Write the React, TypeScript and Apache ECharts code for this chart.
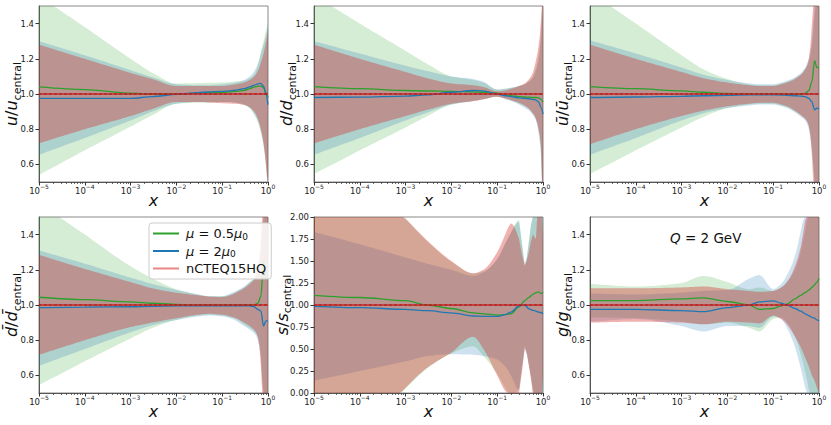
import React, { useEffect, useRef } from "react";
import * as echarts from "echarts";

// x sample points (momentum fraction)
const X = [1e-5, 1e-4, 1e-3, 3e-3, 1e-2, 0.03, 0.05, 0.1, 0.15, 0.2, 0.3, 0.4, 0.5, 0.6, 0.7, 0.8, 0.9, 1.0];

// tick values
const X_MAJOR = [1e-5, 1e-4, 1e-3, 1e-2, 1e-1, 1];
const Y_TICKS = [0.6, 0.8, 1.0, 1.2, 1.4];
const S_TICKS = [0, 0.25, 0.5, 0.75, 1.0, 1.25, 1.5, 1.75, 2.0];

const LEGEND_NAMES = ["μ = 0.5μ0", "μ = 2μ0", "nCTEQ15HQ"];

// ---- u ----
const uGreenHi = [1.557, 1.38, 1.2, 1.12, 1.06, 1.062, 1.064, 1.065, 1.068, 1.072, 1.075, 1.09, 1.11, 1.16, 1.24, 1.3, 1.36, 1.41];
const uGreenLo = [0.54, 0.68, 0.815, 0.88, 0.945, 0.95, 0.95, 0.955, 0.955, 0.95, 0.94, 0.92, 0.88, 0.84, 0.78, 0.7, 0.6, 0.45];
const uGreenC = [1.04, 1.025, 1.005, 1.0, 1.0, 1.005, 1.007, 1.01, 1.012, 1.015, 1.02, 1.03, 1.04, 1.045, 1.045, 1.035, 1.01, 0.98];
const uBlueHi = [1.3, 1.22, 1.135, 1.095, 1.055, 1.05, 1.05, 1.055, 1.06, 1.065, 1.08, 1.1, 1.13, 1.17, 1.23, 1.28, 1.33, 1.38];
const uBlueLo = [0.655, 0.75, 0.85, 0.9, 0.945, 0.955, 0.955, 0.955, 0.955, 0.95, 0.94, 0.92, 0.89, 0.85, 0.79, 0.72, 0.62, 0.48];
const uBlueC = [0.975, 0.975, 0.975, 0.985, 0.998, 1.008, 1.012, 1.015, 1.018, 1.022, 1.03, 1.04, 1.05, 1.058, 1.06, 1.045, 1.0, 0.94];
const uRedHi = [1.28, 1.2, 1.12, 1.085, 1.045, 1.045, 1.045, 1.045, 1.05, 1.055, 1.065, 1.08, 1.1, 1.13, 1.18, 1.23, 1.29, 1.36];
const uRedLo = [0.72, 0.8, 0.875, 0.915, 0.955, 0.955, 0.952, 0.948, 0.946, 0.944, 0.938, 0.925, 0.9, 0.86, 0.8, 0.72, 0.6, 0.45];

// ---- d ----
const dGreenHi = [1.56, 1.4, 1.245, 1.17, 1.1, 1.08, 1.065, 1.025, 1.03, 1.035, 1.045, 1.055, 1.075, 1.1, 1.15, 1.22, 1.35, 1.7];
const dGreenLo = [0.545, 0.68, 0.81, 0.875, 0.94, 0.96, 0.97, 0.985, 0.975, 0.965, 0.945, 0.93, 0.915, 0.89, 0.86, 0.8, 0.7, 0.3];
const dGreenC = [1.042, 1.03, 1.02, 1.017, 1.015, 1.012, 1.01, 1.005, 0.995, 0.99, 0.985, 0.983, 0.982, 0.98, 0.98, 0.978, 0.97, 0.955];
const dBlueHi = [1.3, 1.23, 1.16, 1.13, 1.1, 1.085, 1.07, 1.025, 1.03, 1.035, 1.045, 1.055, 1.07, 1.09, 1.13, 1.19, 1.3, 1.6];
const dBlueLo = [0.655, 0.75, 0.85, 0.895, 0.94, 0.96, 0.97, 0.985, 0.97, 0.96, 0.94, 0.92, 0.905, 0.88, 0.85, 0.78, 0.65, 0.3];
const dBlueC = [0.98, 0.982, 0.988, 0.995, 1.01, 1.02, 1.018, 1.0, 0.99, 0.985, 0.978, 0.975, 0.973, 0.97, 0.965, 0.955, 0.925, 0.885];
const dRedHi = [1.28, 1.2, 1.125, 1.09, 1.06, 1.05, 1.04, 1.015, 1.02, 1.03, 1.045, 1.06, 1.085, 1.12, 1.19, 1.27, 1.42, 1.9];
const dRedLo = [0.72, 0.8, 0.875, 0.91, 0.945, 0.96, 0.97, 0.985, 0.975, 0.965, 0.95, 0.935, 0.915, 0.89, 0.86, 0.8, 0.7, 0.2];

// ---- ubar ----
const ubGreenHi = [1.58, 1.4, 1.22, 1.14, 1.085, 1.055, 1.05, 1.05, 1.06, 1.07, 1.09, 1.11, 1.14, 1.18, 1.27, 1.45, 1.7, 1.9];
const ubGreenLo = [0.545, 0.68, 0.81, 0.87, 0.92, 0.94, 0.945, 0.945, 0.935, 0.925, 0.9, 0.88, 0.86, 0.82, 0.7, 0.5, 0.3, 0.2];
const ubGreenC = [1.042, 1.03, 1.018, 1.01, 1.003, 1.0, 1.0, 1.0, 1.0, 1.0, 1.0, 1.0, 1.003, 1.02, 1.07, 1.19, 1.15, 1.15];
const ubBlueHi = [1.305, 1.23, 1.15, 1.11, 1.08, 1.06, 1.055, 1.055, 1.065, 1.075, 1.095, 1.12, 1.15, 1.2, 1.3, 1.5, 1.7, 1.8];
const ubBlueLo = [0.655, 0.75, 0.85, 0.89, 0.92, 0.935, 0.94, 0.94, 0.93, 0.92, 0.895, 0.87, 0.85, 0.8, 0.68, 0.48, 0.3, 0.2];
const ubBlueC = [0.98, 0.983, 0.987, 0.99, 0.993, 0.995, 0.995, 0.995, 0.994, 0.993, 0.99, 0.988, 0.985, 0.975, 0.955, 0.91, 0.92, 0.915];
const ubRedHi = [1.28, 1.2, 1.125, 1.09, 1.065, 1.05, 1.045, 1.045, 1.055, 1.065, 1.085, 1.11, 1.14, 1.2, 1.4, 2.0, 2.0, 2.0];
const ubRedLo = [0.715, 0.8, 0.875, 0.905, 0.93, 0.945, 0.95, 0.95, 0.94, 0.93, 0.905, 0.88, 0.86, 0.82, 0.65, 0.0, 0.0, 0.0];

// ---- dbar ----
const dbGreenHi = [1.58, 1.4, 1.22, 1.15, 1.09, 1.06, 1.05, 1.05, 1.06, 1.075, 1.1, 1.13, 1.15, 1.2, 1.3, 1.6, 1.9, 1.9];
const dbGreenLo = [0.545, 0.68, 0.81, 0.87, 0.915, 0.94, 0.945, 0.94, 0.93, 0.92, 0.89, 0.87, 0.85, 0.82, 0.72, 0.4, 0.2, 0.2];
const dbGreenC = [1.044, 1.03, 1.018, 1.01, 1.004, 1.0, 1.0, 1.0, 1.0, 1.0, 1.0, 1.0, 1.0, 1.01, 1.05, 1.25, 1.15, 1.15];
const dbBlueHi = [1.31, 1.235, 1.155, 1.12, 1.085, 1.06, 1.05, 1.05, 1.065, 1.08, 1.105, 1.13, 1.155, 1.2, 1.3, 1.6, 1.8, 1.8];
const dbBlueLo = [0.655, 0.75, 0.845, 0.885, 0.915, 0.935, 0.94, 0.935, 0.925, 0.91, 0.88, 0.86, 0.84, 0.8, 0.7, 0.4, 0.2, 0.2];
const dbBlueC = [0.985, 0.988, 0.99, 0.992, 0.995, 0.995, 0.995, 0.995, 0.995, 0.995, 0.995, 0.995, 0.99, 0.975, 0.965, 0.88, 0.91, 0.91];
const dbRedHi = [1.285, 1.205, 1.13, 1.095, 1.07, 1.055, 1.048, 1.045, 1.055, 1.07, 1.095, 1.12, 1.145, 1.2, 1.4, 2.0, 2.0, 2.0];
const dbRedLo = [0.717, 0.8, 0.875, 0.9, 0.925, 0.945, 0.95, 0.945, 0.935, 0.925, 0.9, 0.88, 0.86, 0.82, 0.65, 0.0, 0.0, 0.0];

// ---- s ----
const sGreenHi = [3.0, 2.5, 1.98, 1.72, 1.49, 1.36, 1.38, 1.52, 1.7, 1.82, 1.97, 1.45, 1.75, 2.1, 2.5, 2.5, 2.5, 2.3];
const sGreenLo = [-1.2, -0.55, 0.05, 0.28, 0.45, 0.53, 0.42, 0.22, 0.06, -0.02, 0.05, 0.53, 0.3, 0.0, -0.4, -0.5, -0.4, -0.3];
const sGreenC = [1.11, 1.085, 1.05, 1.0, 0.96, 0.91, 0.9, 0.885, 0.89, 0.9, 0.98, 1.05, 1.09, 1.12, 1.14, 1.15, 1.13, 1.15];
const sBlueHi = [1.83, 1.69, 1.54, 1.47, 1.4, 1.33, 1.37, 1.52, 1.7, 1.82, 1.95, 1.45, 1.75, 2.1, 2.5, 2.5, 2.5, 2.3];
const sBlueLo = [0.14, 0.25, 0.36, 0.42, 0.44, 0.435, 0.42, 0.38, 0.3, 0.2, 0.03, 0.5, 0.3, 0.05, -0.2, -0.3, -0.2, -0.3];
const sBlueC = [0.985, 0.97, 0.95, 0.935, 0.91, 0.875, 0.87, 0.87, 0.89, 0.92, 0.99, 1.0, 0.955, 0.94, 0.93, 0.92, 0.915, 0.9];
const sRedHi = [3.0, 2.5, 1.98, 1.73, 1.5, 1.36, 1.4, 1.6, 1.8, 1.93, 1.75, 1.45, 1.62, 1.8, 1.75, 3.0, 3.0, 1.75];
const sRedLo = [-1.2, -0.55, 0.06, 0.29, 0.46, 0.64, 0.5, 0.2, 0.02, -0.05, -0.05, 0.52, 0.28, 0.0, -0.4, -1.0, -1.0, 0.2];

// ---- g ----
const gGreenHi = [1.12, 1.105, 1.125, 1.165, 1.13, 1.09, 1.1, 1.08, 1.1, 1.13, 1.2, 1.3, 1.42, 1.55, 1.7, 1.8, 1.9, 2.0];
const gGreenLo = [0.93, 0.925, 0.905, 0.89, 0.9, 0.87, 0.85, 0.92, 0.93, 0.9, 0.82, 0.72, 0.62, 0.52, 0.4, 0.3, 0.2, 0.1];
const gGreenC = [1.025, 1.025, 1.035, 1.04, 1.02, 1.0, 0.975, 0.98, 0.995, 1.005, 1.035, 1.055, 1.07, 1.085, 1.1, 1.115, 1.13, 1.15];
const gBlueHi = [1.065, 1.06, 1.07, 1.08, 1.085, 1.15, 1.17, 1.09, 1.12, 1.17, 1.28, 1.42, 1.55, 1.7, 1.85, 1.95, 2.0, 2.0];
const gBlueLo = [0.905, 0.92, 0.88, 0.85, 0.88, 0.88, 0.87, 0.935, 0.92, 0.87, 0.76, 0.64, 0.53, 0.45, 0.35, 0.3, 0.2, 0.1];
const gBlueC = [0.975, 0.975, 0.968, 0.962, 0.985, 1.0, 1.018, 1.024, 1.01, 1.0, 0.98, 0.965, 0.95, 0.94, 0.93, 0.925, 0.915, 0.91];
const gRedHi = [1.095, 1.095, 1.1, 1.105, 1.09, 1.08, 1.075, 1.08, 1.1, 1.13, 1.22, 1.33, 1.48, 1.6, 1.75, 1.85, 1.95, 2.0];
const gRedLo = [0.9, 0.905, 0.9, 0.89, 0.905, 0.9, 0.895, 0.94, 0.92, 0.89, 0.82, 0.76, 0.7, 0.65, 0.6, 0.57, 0.53, 0.5];

const GREEN = "#2ca02c";
const BLUE = "#1f77b4";
const RED = "#d62728";
const FONT = "DejaVu Sans";

const PANELS = [
  { label: "{i|u}{n|/}{i|u}{s|central}", min: 0.5, max: 1.5, g: [uGreenLo, uGreenHi, uGreenC], b: [uBlueLo, uBlueHi, uBlueC], r: [uRedLo, uRedHi] },
  { label: "{i|d}{n|/}{i|d}{s|central}", min: 0.5, max: 1.5, g: [dGreenLo, dGreenHi, dGreenC], b: [dBlueLo, dBlueHi, dBlueC], r: [dRedLo, dRedHi] },
  { label: "{i|ū}{n|/}{i|ū}{s|central}", min: 0.5, max: 1.5, g: [ubGreenLo, ubGreenHi, ubGreenC], b: [ubBlueLo, ubBlueHi, ubBlueC], r: [ubRedLo, ubRedHi] },
  { label: "{i|d̄}{n|/}{i|d̄}{s|central}", min: 0.5, max: 1.5, g: [dbGreenLo, dbGreenHi, dbGreenC], b: [dbBlueLo, dbBlueHi, dbBlueC], r: [dbRedLo, dbRedHi] },
  { label: "{i|s}{n|/}{i|s}{s|central}", min: 0, max: 2, g: [sGreenLo, sGreenHi, sGreenC], b: [sBlueLo, sBlueHi, sBlueC], r: [sRedLo, sRedHi] },
  { label: "{i|g}{n|/}{i|g}{s|central}", min: 0.5, max: 1.5, g: [gGreenLo, gGreenHi, gGreenC], b: [gBlueLo, gBlueHi, gBlueC], r: [gRedLo, gRedHi] },
];

const GRID_LEFT = [39, 314, 590];
const GRID_TOP = [6, 217];

function minorTicks(): number[] {
  const out: number[] = [];
  for (let k = -5; k < 0; k++) {
    for (let m = 2; m <= 9; m++) out.push(m * Math.pow(10, k));
  }
  return out;
}

function xFmt(v: number) {
  const e = Math.round(Math.log10(v));
  return e === 0 ? "{b|10}{p|0}" : "{b|10}{p|−" + -e + "}";
}

// monotone cubic (Fritsch–Carlson) rendering of a curve through pixel points
function monotonePath(pts: number[][]): number[][] {
  const n = pts.length;
  const xs = pts.map((p) => p[0]);
  const ys = pts.map((p) => p[1]);
  const d: number[] = [];
  for (let k = 0; k < n - 1; k++) {
    const h = xs[k + 1] - xs[k];
    d.push(h === 0 ? 0 : (ys[k + 1] - ys[k]) / h);
  }
  const m: number[] = new Array(n).fill(0);
  m[0] = d[0];
  m[n - 1] = d[n - 2];
  for (let k = 1; k < n - 1; k++) {
    if (d[k - 1] * d[k] <= 0) m[k] = 0;
    else {
      const h0 = xs[k] - xs[k - 1];
      const h1 = xs[k + 1] - xs[k];
      const w1 = 2 * h1 + h0;
      const w2 = h1 + 2 * h0;
      m[k] = (w1 + w2) / (w1 / d[k - 1] + w2 / d[k]);
    }
  }
  const out: number[][] = [];
  for (let k = 0; k < n - 1; k++) {
    const h = xs[k + 1] - xs[k];
    const steps = Math.max(2, Math.ceil(h / 3));
    for (let s = 0; s < steps; s++) {
      const t = s / steps;
      const t2 = t * t;
      const t3 = t2 * t;
      const y = (2 * t3 - 3 * t2 + 1) * ys[k] + (t3 - 2 * t2 + t) * h * m[k] + (-2 * t3 + 3 * t2) * ys[k + 1] + (t3 - t2) * h * m[k + 1];
      out.push([xs[k] + t * h, y]);
    }
  }
  out.push([xs[n - 1], ys[n - 1]]);
  return out;
}

export default function App() {
  const ref = useRef<HTMLDivElement>(null);
  useEffect(() => {
    if (!ref.current) return;
    const chart = echarts.init(ref.current, undefined, { renderer: "svg" });
    const grids: any[] = [];
    const xAxes: any[] = [];
    const yAxes: any[] = [];
    const series: any[] = [];
    const minor = minorTicks();

    PANELS.forEach((p, i) => {
      const col = i % 3;
      const row = Math.floor(i / 3);
      grids.push({
        left: GRID_LEFT[col], top: GRID_TOP[row], width: 229, height: 176,
        show: true, borderColor: "#888", borderWidth: 1, backgroundColor: "transparent",
      });
      xAxes.push({
        type: "log", logBase: 10, gridIndex: i, min: 1e-5, max: 1, position: "bottom",
        name: "x", nameLocation: "middle", nameGap: 10, nameMoveOverlap: false,
        nameTextStyle: { fontStyle: "italic", fontSize: 16, color: "#111", fontFamily: FONT },
        axisLine: { show: true, lineStyle: { color: "#555", width: 1 } },
        axisTick: { show: true, length: 3.5, customValues: X_MAJOR, lineStyle: { color: "#333" } },
        axisLabel: {
          customValues: X_MAJOR, formatter: xFmt, margin: 1,
          rich: {
            b: { fontSize: 8.5, color: "#222", fontFamily: FONT, lineHeight: 12, verticalAlign: "bottom" },
            p: { fontSize: 6, color: "#222", fontFamily: FONT, lineHeight: 6, verticalAlign: "top" },
          },
        },
        splitLine: { show: false },
      });
      xAxes.push({
        type: "log", logBase: 10, gridIndex: i, min: 1e-5, max: 1, position: "bottom",
        axisLine: { show: false },
        axisTick: { show: true, length: 2, customValues: minor, lineStyle: { color: "#444", width: 0.8 } },
        axisLabel: { show: false },
        splitLine: { show: false },
      });
      const isS = p.min === 0;
      yAxes.push({
        type: "value", gridIndex: i, min: p.min, max: p.max,
        ...(isS ? { interval: 0.25 } : {}),
        axisLine: { show: true, lineStyle: { color: "#555", width: 1 } },
        axisTick: { show: true, length: 3.5, lineStyle: { color: "#333" }, customValues: isS ? S_TICKS : Y_TICKS },
        axisLabel: {
          fontSize: 8.5, color: "#222", fontFamily: FONT, margin: 5,
          customValues: isS ? S_TICKS : Y_TICKS,
          formatter: isS ? (v: number) => v.toFixed(2) : (v: number) => v.toFixed(1),
        },
        splitLine: { show: false },
        name: p.label, nameLocation: "middle", nameRotate: 90, nameGap: isS ? 21 : 16.5, nameMoveOverlap: false,
        nameTextStyle: {
          fontFamily: FONT, color: "#111", fontSize: 16,
          rich: {
            i: { fontStyle: "italic", fontSize: 16, fontFamily: FONT, color: "#111", lineHeight: 19, verticalAlign: "top" },
            n: { fontSize: 16, fontFamily: FONT, color: "#111", lineHeight: 19, verticalAlign: "top" },
            s: { fontSize: 11, fontFamily: FONT, color: "#111", lineHeight: 10, verticalAlign: "bottom" },
          },
        },
      });

      const xi = i * 2;
      const band = (lo: number[], hi: number[], color: string) => {
        series.push({
          type: "custom", xAxisIndex: xi, yAxisIndex: i, silent: true, z: 1,
          data: X.map((x, k) => [x, lo[k], hi[k]]),
          encode: { x: 0, y: [1, 2] },
          renderItem: (params: any, api: any) => {
            if (params.dataIndex !== 0) return null;
            const cs = params.coordSys;
            const top = cs.y;
            const bot = cs.y + cs.height;
            const clampY = (q: number[]) => [q[0], Math.min(bot, Math.max(top, q[1]))];
            const up = monotonePath(X.map((x, k) => api.coord([x, hi[k]]))).map(clampY);
            const dn = monotonePath(X.map((x, k) => api.coord([x, lo[k]]))).map(clampY);
            return {
              type: "polygon",
              shape: { points: up.concat(dn.reverse()) },
              style: { fill: color, stroke: null },
              silent: true,
            };
          },
        });
      };
      band(p.g[0], p.g[1], "rgba(44,160,44,0.2)");
      band(p.b[0], p.b[1], "rgba(31,119,180,0.22)");
      band(p.r[0], p.r[1], "rgba(214,39,40,0.36)");

      const line = (name: string, vals: number[], color: string, extra: any = {}) => {
        series.push({
          name, type: "line", xAxisIndex: xi, yAxisIndex: i,
          data: X.map((x, k) => [x, vals[k]]), symbol: "none", smooth: 0.3, smoothMonotone: "x",
          lineStyle: { color, width: 1.3, ...extra }, itemStyle: { color }, silent: true, z: 3,
        });
      };
      line(LEGEND_NAMES[0], p.g[2], GREEN);
      line(LEGEND_NAMES[1], p.b[2], BLUE);
      line(LEGEND_NAMES[2], X.map(() => 1), RED, { width: 1.6 });
      line("central", X.map(() => 1), "rgba(110,10,10,0.6)", { width: 1, type: [3, 2] });
    });

    const legendRich = {
      i: { fontStyle: "italic", fontSize: 13, fontFamily: FONT, color: "#111" },
      s: { fontSize: 9, fontFamily: FONT, color: "#111", verticalAlign: "bottom", lineHeight: 10 },
    };

    chart.setOption({
      animation: false,
      backgroundColor: "#fff",
      textStyle: { fontFamily: FONT },
      grid: grids,
      xAxis: xAxes,
      yAxis: yAxes,
      series,
      legend: {
        orient: "vertical", left: 149, top: 223,
        backgroundColor: "rgba(255,255,255,0.85)", borderColor: "#ccc", borderWidth: 1, borderRadius: 3,
        padding: [3, 5, 3, 4], itemGap: 2.5, itemWidth: 26, itemHeight: 2, icon: "rect",
        selectedMode: false,
        textStyle: { fontSize: 13, fontFamily: FONT, color: "#111", rich: legendRich, lineHeight: 15, padding: [0, 0, 0, 2] },
        data: [
          { name: LEGEND_NAMES[0], itemStyle: { color: GREEN } },
          { name: LEGEND_NAMES[1], itemStyle: { color: BLUE } },
          { name: LEGEND_NAMES[2], itemStyle: { color: "rgba(214,39,40,0.55)" } },
        ],
        formatter: (name: string) => {
          if (name === LEGEND_NAMES[0]) return "{i|μ} = 0.5{i|μ}{s|0}";
          if (name === LEGEND_NAMES[1]) return "{i|μ} = 2{i|μ}{s|0}";
          return name;
        },
      },
      graphic: [
        {
          type: "text", left: 670, top: 231, silent: true,
          style: {
            text: "{i|Q} = 2 GeV", fontSize: 13.5, fontFamily: FONT, fill: "#111",
            rich: { i: { fontStyle: "italic", fontSize: 13.5, fontFamily: FONT, color: "#111" } },
          },
        },
      ],
    });
    return () => chart.dispose();
  }, []);
  return <div ref={ref} style={{ position: "fixed", left: 0, top: 0, width: 831, height: 425 }} />;
}
